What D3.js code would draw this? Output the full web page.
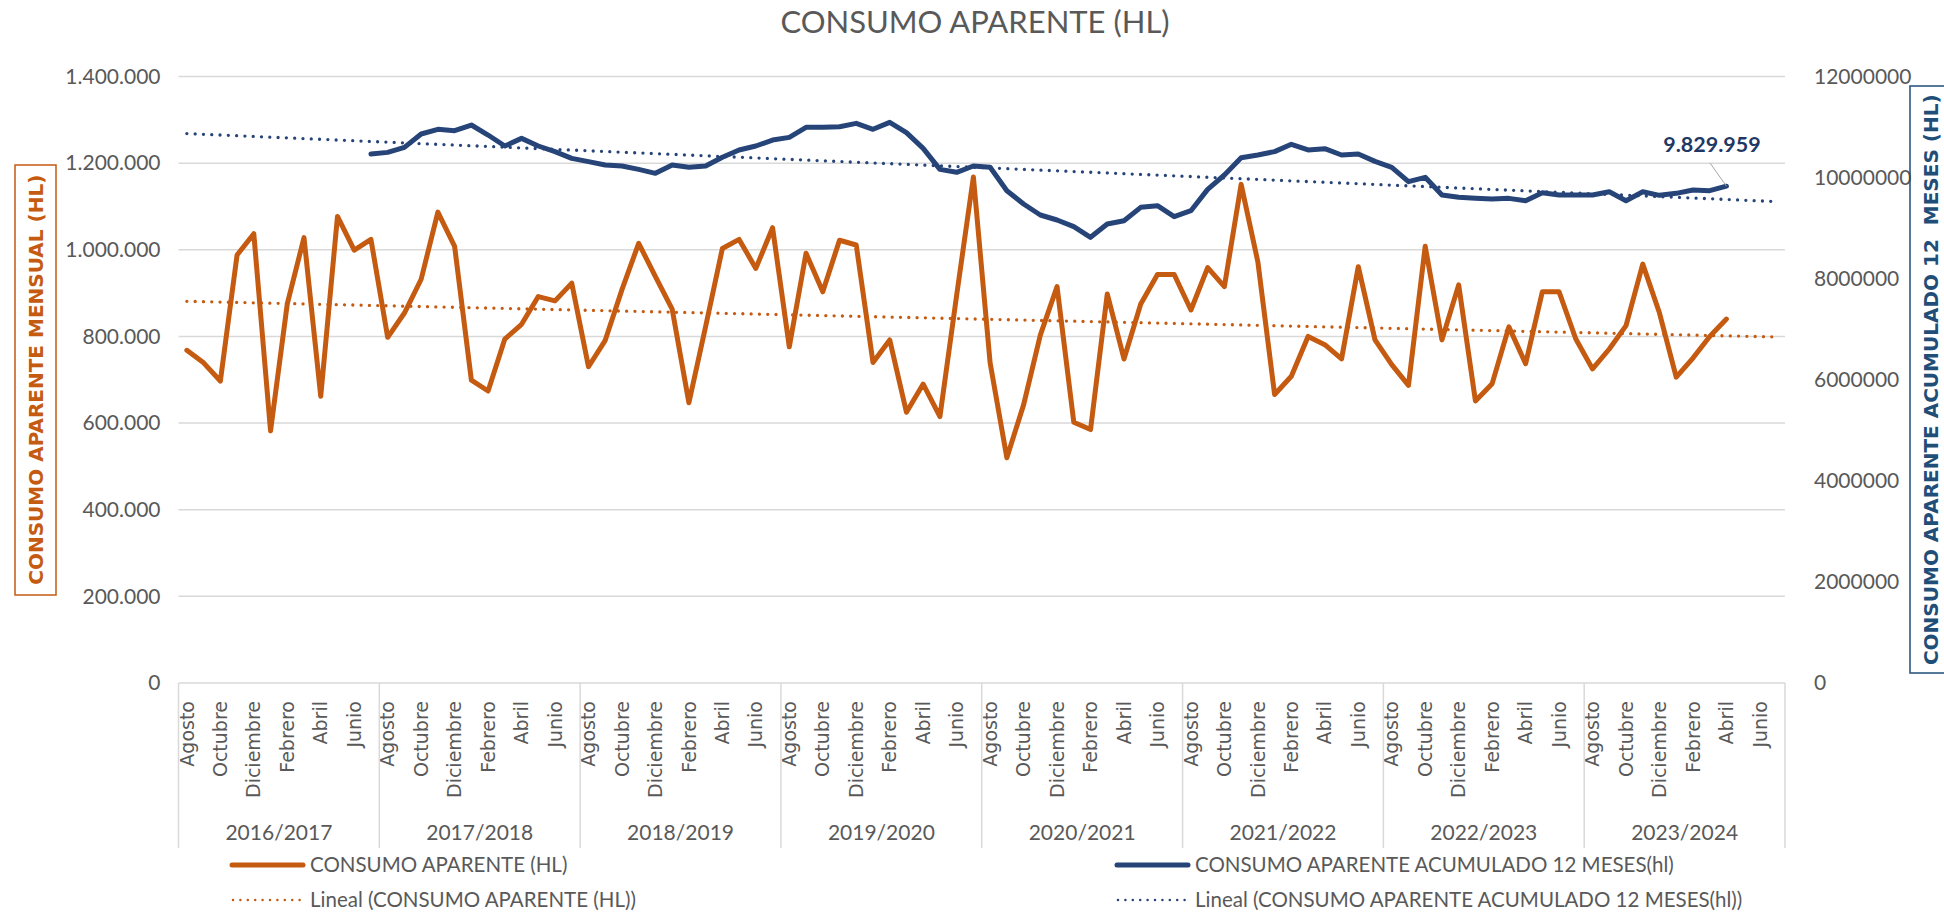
<!DOCTYPE html>
<html lang="es">
<head>
  <meta charset="UTF-8">
  <title>Consumo aparente (HL)</title>
  <script src="https://d3js.org/d3.v7.min.js"></script>
  <style>
    html, body { margin: 0; padding: 0; background: #fff; overflow: hidden; }
    svg { display: block; }
  </style>
</head>
<body>
<div id="chart"></div>

<script>
  // Temporadas (agosto -> julio) y meses de cada temporada
  const temporadas = ["2016/2017", "2017/2018", "2018/2019", "2019/2020",
                      "2020/2021", "2021/2022", "2022/2023", "2023/2024"];
  const meses = ["Agosto", "Septiembre", "Octubre", "Noviembre", "Diciembre", "Enero",
                 "Febrero", "Marzo", "Abril", "Mayo", "Junio", "Julio"];

  // Consumo aparente mensual (HL)
  const consumo = [
    768000, 739000, 697000, 988000, 1037000, 582000, 875000, 1028000, 662000, 1077000, 999000, 1024000,
    798000, 854000, 932000, 1087000, 1008000, 699000, 674000, 794000, 828000, 892000, 882000, 923000,
    730000, 791000, 908000, 1015000, 938000, 863000, 647000, 823000, 1003000, 1024000, 957000, 1051000,
    776000, 992000, 903000, 1022000, 1011000, 740000, 792000, 625000, 690000, 615000, 895000, 1168000,
    739000, 520000, 642000, 803000, 915000, 602000, 585000, 898000, 748000, 875000, 943000, 943000,
    861000, 959000, 915000, 1151000, 972000, 666000, 708000, 800000, 781000, 748000, 961000, 792000,
    735000, 687000, 1008000, 792000, 919000, 651000, 691000, 822000, 737000, 903000, 903000, 794000,
    725000, 771000, 825000, 967000, 854000, 706000, 750000, 800000, 840000
  ];

  // Consumo aparente acumulado 12 meses (hl); empieza en julio 2017
  const acumulado = [
    null, null, null, null, null, null, null, null, null, null, null, 10466000,
    10499000, 10598000, 10862000, 10955000, 10928000, 11040000, 10842000, 10625000, 10776000, 10625000, 10513000, 10381000,
    10315000, 10249000, 10229000, 10163000, 10084000, 10249000, 10203000, 10229000, 10401000, 10546000, 10625000, 10743000,
    10796000, 10994000, 10994000, 11007000, 11073000, 10955000, 11093000, 10889000, 10579000, 10163000, 10104000, 10229000,
    10203000, 9741000, 9477000, 9260000, 9161000, 9029000, 8818000, 9082000, 9147000, 9411000, 9444000, 9227000,
    9345000, 9767000, 10051000, 10394000, 10447000, 10513000, 10658000, 10546000, 10572000, 10447000, 10466000, 10320000,
    10203000, 9919000, 10005000, 9655000, 9609000, 9589000, 9576000, 9589000, 9543000, 9701000, 9655000, 9655000,
    9655000, 9721000, 9543000, 9721000, 9649000, 9688000, 9754000, 9741000, 9829959
  ];

  const ticksIzq = [0, 200000, 400000, 600000, 800000, 1000000, 1200000, 1400000];
  const ticksDer = [0, 2000000, 4000000, 6000000, 8000000, 10000000, 12000000];

  const width = 1944, height = 915;
  const pLeft = 178.5, pRight = 1785, pTop = 76.5, pBottom = 683;

  const naranja = "#c55a11", azul = "#264478", gris = "#595959", rejilla = "#d9d9d9";
  const fuente = "Lato, 'Liberation Sans', sans-serif";

  const svg = d3.select("#chart").append("svg")
    .attr("width", width).attr("height", height);

  const nCat = temporadas.length * meses.length;
  const x = d3.scaleBand().domain(d3.range(nCat)).range([pLeft, pRight]);
  const cx = i => x(i) + x.bandwidth() / 2;
  const yL = d3.scaleLinear().domain([0, 1400000]).range([pBottom, pTop]);
  const yR = d3.scaleLinear().domain([0, 12000000]).range([pBottom, pTop]);

  const es = d3.formatLocale({decimal: ",", thousands: ".", grouping: [3], currency: ["", ""]});
  const fmtMiles = es.format(",");

  // Titulo
  svg.append("text")
    .attr("x", 975).attr("y", 33)
    .attr("text-anchor", "middle")
    .style("font", `31px ${fuente}`).attr("fill", gris)
    .text("CONSUMO APARENTE (HL)");

  // Rejilla horizontal
  svg.append("g").selectAll("line").data(ticksIzq).join("line")
    .attr("x1", pLeft).attr("x2", pRight)
    .attr("y1", d => yL(d)).attr("y2", d => yL(d))
    .attr("stroke", rejilla).attr("stroke-width", 1.5);

  // Eje izquierdo
  const ejeIzq = svg.append("g").attr("transform", `translate(${pLeft},0)`)
    .call(d3.axisLeft(yL).tickValues(ticksIzq).tickFormat(fmtMiles).tickSize(0).tickPadding(18));
  ejeIzq.select(".domain").remove();
  ejeIzq.selectAll("text").style("font", `21px ${fuente}`).attr("fill", gris);

  // Eje derecho
  const ejeDer = svg.append("g").attr("transform", `translate(${pRight},0)`)
    .call(d3.axisRight(yR).tickValues(ticksDer).tickFormat(d3.format("d")).tickSize(0).tickPadding(29));
  ejeDer.select(".domain").remove();
  ejeDer.selectAll("text").style("font", `21px ${fuente}`).attr("fill", gris);

  // Eje de categorias: meses (uno de cada dos) y temporadas
  const gx = svg.append("g");
  gx.selectAll("text.mes").data(d3.range(nCat).filter(i => i % 2 === 0)).join("text")
    .attr("class", "mes")
    .attr("transform", i => `translate(${cx(i)},701) rotate(-90)`)
    .attr("text-anchor", "end").attr("dy", "0.35em")
    .style("font", "19px 'DejaVu Sans', sans-serif").attr("fill", gris)
    .text(i => meses[i % 12]);

  const anchoTemp = (pRight - pLeft) / temporadas.length;
  gx.selectAll("line.div").data(d3.range(temporadas.length + 1)).join("line")
    .attr("class", "div")
    .attr("x1", k => pLeft + k * anchoTemp).attr("x2", k => pLeft + k * anchoTemp)
    .attr("y1", pBottom).attr("y2", 848)
    .attr("stroke", rejilla).attr("stroke-width", 1.5);
  gx.selectAll("text.temp").data(temporadas).join("text")
    .attr("class", "temp")
    .attr("x", (d, k) => pLeft + (k + 0.5) * anchoTemp).attr("y", 840)
    .attr("text-anchor", "middle")
    .style("font", `21px ${fuente}`).attr("fill", gris)
    .text(d => d);

  // Tendencias lineales (minimos cuadrados sobre el indice de categoria)
  function tendencia(valores) {
    const pts = valores.map((v, i) => [i + 1, v]).filter(p => p[1] != null);
    const mx = d3.mean(pts, p => p[0]), my = d3.mean(pts, p => p[1]);
    const b = d3.sum(pts, p => (p[0] - mx) * (p[1] - my)) / d3.sum(pts, p => (p[0] - mx) ** 2);
    const a = my - b * mx;
    return d3.range(nCat).map(i => a + b * (i + 1));
  }

  const linea = y => d3.line().defined(d => d != null).x((d, i) => cx(i)).y(d => y(d));

  svg.append("path").datum(tendencia(consumo))
    .attr("d", linea(yL)).attr("fill", "none")
    .attr("stroke", naranja).attr("stroke-width", 3.3)
    .attr("stroke-linecap", "round").attr("stroke-dasharray", "0 8.3");

  svg.append("path").datum(tendencia(acumulado))
    .attr("d", linea(yR)).attr("fill", "none")
    .attr("stroke", azul).attr("stroke-width", 3.3)
    .attr("stroke-linecap", "round").attr("stroke-dasharray", "0 8.3");

  // Series
  svg.append("path").datum(consumo)
    .attr("d", linea(yL)).attr("fill", "none")
    .attr("stroke", naranja).attr("stroke-width", 5)
    .attr("stroke-linejoin", "round").attr("stroke-linecap", "round");

  svg.append("path").datum(acumulado)
    .attr("d", linea(yR)).attr("fill", "none")
    .attr("stroke", azul).attr("stroke-width", 5)
    .attr("stroke-linejoin", "round").attr("stroke-linecap", "round");

  // Etiqueta del ultimo valor acumulado
  const ult = acumulado.length - 1;
  svg.append("line")
    .attr("x1", 1710).attr("y1", 163)
    .attr("x2", cx(ult)).attr("y2", yR(acumulado[ult]))
    .attr("stroke", "#a6a6a6").attr("stroke-width", 1);
  svg.append("text")
    .attr("x", 1712).attr("y", 152).attr("text-anchor", "middle")
    .style("font", `bold 21.5px ${fuente}`).attr("fill", "#1f3864")
    .text(fmtMiles(acumulado[ult]));

  // Titulos de ejes con recuadro
  svg.append("rect").attr("x", 15).attr("y", 165).attr("width", 41).attr("height", 430)
    .attr("fill", "none").attr("stroke", naranja).attr("stroke-width", 1.5);
  svg.append("text")
    .attr("transform", `translate(36,${(pTop + pBottom) / 2}) rotate(-90)`)
    .attr("text-anchor", "middle").attr("dy", "0.35em")
    .style("font", "bold 20px 'DejaVu Sans', sans-serif").attr("fill", naranja)
    .text("CONSUMO APARENTE MENSUAL (HL)");

  svg.append("rect").attr("x", 1910).attr("y", 86).attr("width", 45).attr("height", 587)
    .attr("fill", "none").attr("stroke", "#1f4e79").attr("stroke-width", 1.5);
  svg.append("text")
    .attr("transform", `translate(1931,${(pTop + pBottom) / 2}) rotate(-90)`)
    .attr("text-anchor", "middle").attr("dy", "0.35em")
    .style("font", "bold 20px 'DejaVu Sans', sans-serif").style("white-space", "pre")
    .attr("fill", "#1f4e79")
    .text("CONSUMO APARENTE ACUMULADO 12  MESES (HL)");

  // Leyenda
  const leyenda = [
    {x: 232, y: 865, color: naranja, punteada: false, texto: "CONSUMO APARENTE (HL)"},
    {x: 1117, y: 865, color: azul, punteada: false, texto: "CONSUMO APARENTE ACUMULADO 12 MESES(hl)"},
    {x: 232, y: 900, color: naranja, punteada: true, texto: "Lineal (CONSUMO APARENTE (HL))"},
    {x: 1117, y: 900, color: azul, punteada: true, texto: "Lineal (CONSUMO APARENTE ACUMULADO 12 MESES(hl))"}
  ];
  const gl = svg.append("g").selectAll("g").data(leyenda).join("g");
  gl.append("line")
    .attr("x1", d => d.x + (d.punteada ? 1 : 0)).attr("x2", d => d.x + (d.punteada ? 68 : 71))
    .attr("y1", d => d.y).attr("y2", d => d.y)
    .attr("stroke", d => d.color)
    .attr("stroke-width", d => d.punteada ? 2.5 : 5)
    .attr("stroke-linecap", "round")
    .attr("stroke-dasharray", d => d.punteada ? "0 7.4" : null);
  gl.append("text")
    .attr("x", d => d.x + 78).attr("y", d => d.y).attr("dy", "0.35em")
    .style("font", `20.5px ${fuente}`).attr("fill", gris)
    .text(d => d.texto);
</script>
</body>
</html>
